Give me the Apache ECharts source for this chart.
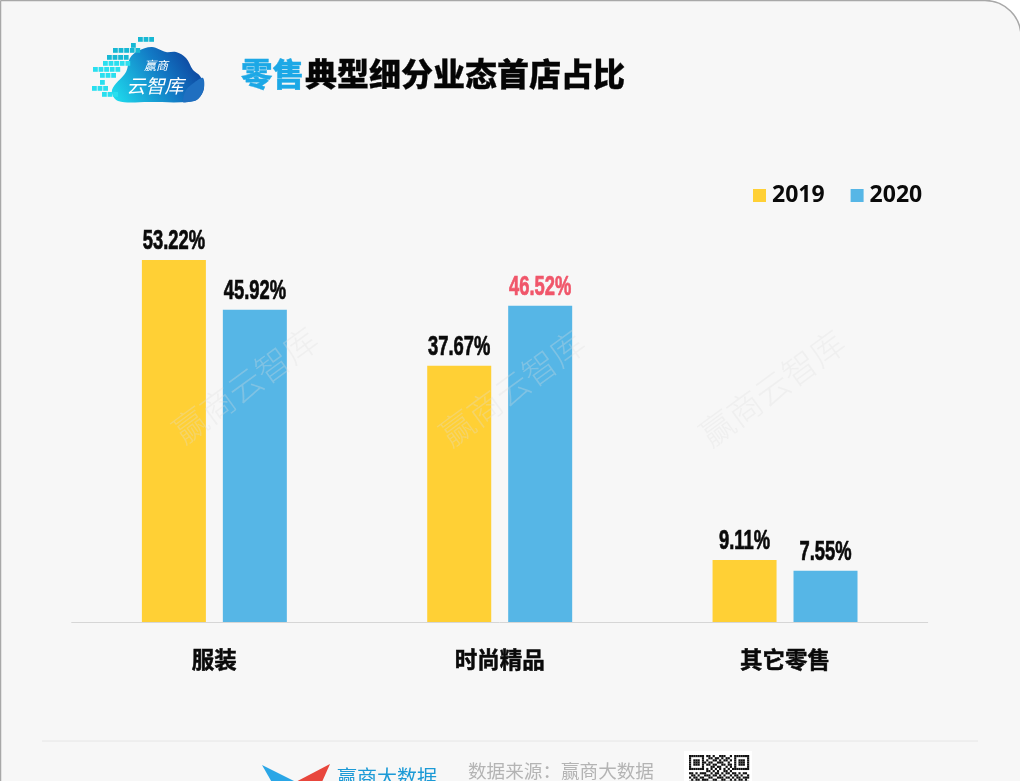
<!DOCTYPE html>
<html>
<head>
<meta charset="utf-8">
<title>零售典型细分业态首店占比</title>
<style>
  html, body { margin: 0; padding: 0; background: #fff; }
  #main { width: 1020px; height: 781px; }
</style>
<script src="https://cdn.jsdelivr.net/npm/echarts@6/dist/echarts.min.js"></script>
</head>
<body>
<div id="main"></div>
<script>
const categories = ['服装', '时尚精品', '其它零售'];
const seriesNames = ['2019', '2020'];
const values2019 = [53.22, 37.67, 9.11];
const values2020 = [45.92, 46.52, 7.55];
const highlighted2020 = 1; // 46.52 is the one red label

const cjk = '"Noto Sans CJK SC", "Noto Sans", sans-serif';
const yellow = '#ffd035';
const blue = '#56b6e6';
const barWidth = 64;
const barGap = '26.5%';

// logo pixels: x, y, how many squares
const logoPixels = [
  [138, 37, 3], [131, 43, 1], [113, 48, 5], [107, 55, 4], [103, 61, 5],
  [93, 67, 5], [100, 73, 3], [100, 80, 1], [92, 86, 3], [102, 92, 3]
];

// cloud outline, graphic has no path type so it is a smoothed polygon
const cloudOutline = [
  [118, 101], [150, 102], [188, 102], [198, 99], [204, 88], [200, 76], [193, 70],
  [186, 58], [176, 52], [166, 52], [152, 47], [138, 51], [130, 58], [126, 72], [112, 90]
];
const cloudLobe = [[183, 102], [186, 90], [195, 82], [203, 78], [204, 88], [198, 99], [188, 102]];

// top rows of the footer QR code, it is cut off by the page edge
const qrRows = [
  '1111111011010011100101111111',
  '1000001001101101011001000001',
  '1011101010011010110101011101',
  '1011101101100111001001011101',
  '1011101011011001101101011101',
  '1000001000110110010101000001',
  '1111111010101010101011111111',
  '0000000011010100110100000000',
  '1101011100101101011011010110',
  '0110100111011010100101101001',
  '1011011001100111011010110111',
  '0101101110011001100101011010',
  '1110010101101110011011100101'
];

const graphics = [];

// card background
graphics.push({
  type: 'rect', z: -10, silent: true,
  shape: { x: 0.5, y: 0.5, width: 1020.5, height: 800, r: [0, 36, 0, 0] },
  style: { fill: '#f7f7f7', stroke: '#a8a8a8', lineWidth: 1.5 }
});

// logo
graphics.push({
  type: 'polygon', z: 1, silent: true,
  shape: { points: cloudOutline, smooth: 0.35 },
  style: {
    fill: new echarts.graphic.LinearGradient(0, 1, 1, 0, [
      { offset: 0, color: '#1fe2f0' },
      { offset: 0.55, color: '#1278c4' },
      { offset: 1, color: '#0c2f8e' }
    ])
  }
});
graphics.push({
  type: 'polygon', z: 1, silent: true,
  shape: { points: cloudLobe, smooth: 0.3 },
  style: { fill: '#1f6fc0' }
});
logoPixels.forEach(function (row) {
  for (let i = 0; i < row[2]; i++) {
    graphics.push({
      type: 'rect', z: 2, silent: true,
      shape: { x: row[0] + i * 5.6, y: row[1], width: 4.8, height: 4.8 },
      style: { fill: row[1] < 60 ? '#17b8d4' : '#2adfef' }
    });
  }
});
graphics.push({
  type: 'text', z: 3, silent: true, x: 156, y: 65,
  style: { text: '赢商', fill: '#fff', font: 'italic 12px ' + cjk, textAlign: 'center', textVerticalAlign: 'middle' }
});
graphics.push({
  type: 'text', z: 3, silent: true, x: 155, y: 86,
  style: { text: '云智库', fill: '#fff', font: 'italic 19px ' + cjk, textAlign: 'center', textVerticalAlign: 'middle' }
});

// title
graphics.push({
  type: 'text', z: 3, silent: true, x: 241, y: 74,
  style: { text: '零售', fill: '#1ca8e6', stroke: '#1ca8e6', lineWidth: 0.3, font: '900 31.5px ' + cjk, textVerticalAlign: 'middle' }
});
graphics.push({
  type: 'text', z: 3, silent: true, x: 305, y: 74,
  style: { text: '典型细分业态首店占比', fill: '#050505', stroke: '#050505', lineWidth: 0.3, font: '900 32px ' + cjk, textVerticalAlign: 'middle' }
});

// watermarks
[[245, 385], [512, 388], [772, 388]].forEach(function (p) {
  graphics.push({
    type: 'text', z: 100, silent: true, x: p[0], y: p[1], rotation: 0.63,
    style: { text: '赢商云智库', fill: 'rgba(222,222,222,0.3)', font: '300 34px ' + cjk, textAlign: 'center', textVerticalAlign: 'middle' }
  });
});

// footer
graphics.push({
  type: 'line', z: 1, silent: true,
  shape: { x1: 42, y1: 741, x2: 978, y2: 741 },
  style: { stroke: '#e6e6e6', lineWidth: 1 }
});
graphics.push({
  type: 'polygon', z: 1, silent: true,
  shape: { points: [[262, 765], [308, 788], [282, 800]] },
  style: { fill: '#2aa6e6' }
});
graphics.push({
  type: 'polygon', z: 1, silent: true,
  shape: { points: [[330, 764], [288, 786], [314, 800]] },
  style: { fill: '#e8463c' }
});
graphics.push({
  type: 'text', z: 3, silent: true, x: 337, y: 767,
  style: { text: '赢商大数据', fill: '#1c9ad6', font: '20px ' + cjk }
});
graphics.push({
  type: 'text', z: 3, silent: true, x: 468, y: 762,
  style: { text: '数据来源：赢商大数据', fill: '#b4b4b4', font: '18.6px ' + cjk }
});
graphics.push({
  type: 'rect', z: 1, silent: true,
  shape: { x: 684, y: 751, width: 68, height: 40 },
  style: { fill: '#fff' }
});
qrRows.forEach(function (row, r) {
  row.split('').forEach(function (cell, c) {
    if (cell === '1') {
      graphics.push({
        type: 'rect', z: 2, silent: true,
        shape: { x: 689 + c * 2.15, y: 755 + r * 2.15, width: 2.15, height: 2.15 },
        style: { fill: '#111' }
      });
    }
  });
});

// no narrow font is installed, so the value labels are squeezed text from a custom series
const labelPoints = [];
[values2019, values2020].forEach(function (values, s) {
  values.forEach(function (v, i) { labelPoints.push([i, v, s]); });
});
const renderValueLabel = function (params, api) {
  const layout = api.barLayout({ count: 2, barWidth: barWidth, barGap: barGap });
  const s = api.value(2);
  const i = api.value(0);
  const v = api.value(1);
  const pt = api.coord([i, v]);
  const color = s === 1 && i === highlighted2020 ? '#f0566a' : '#0a0a0a';
  return {
    type: 'text',
    x: pt[0] + layout[s].offsetCenter,
    y: pt[1] - 18.5,
    scaleX: 0.68,
    silent: true,
    style: {
      text: v.toFixed(2) + '%',
      fill: color, stroke: color, lineWidth: 0.7,
      font: 'bold 27px "Liberation Sans", sans-serif',
      textAlign: 'center', textVerticalAlign: 'middle'
    }
  };
};

const myChart = echarts.init(document.getElementById('main'));
myChart.setOption({
  animation: false,
  backgroundColor: 'transparent',
  graphic: graphics,
  legend: {
    left: 748, top: 179, itemWidth: 13, itemHeight: 13, itemGap: 26,
    selectedMode: false, icon: 'rect',
    data: seriesNames,
    textStyle: { color: '#0a0a0a', fontFamily: '"Open Sans", sans-serif', fontWeight: 'bold', fontSize: 23, padding: [0, 0, 0, 1] }
  },
  grid: { left: 71.7, right: 92.3, top: 214, bottom: 159 },
  xAxis: {
    type: 'category',
    data: categories,
    axisTick: { show: false },
    axisLine: { lineStyle: { color: '#d6d6d6', width: 1 } },
    axisLabel: {
      color: '#0a0a0a', fontFamily: cjk, fontWeight: 'bold', fontSize: 22.5, margin: 26,
      textBorderColor: '#0a0a0a', textBorderWidth: 0.5
    }
  },
  yAxis: { type: 'value', min: 0, max: 60, show: false },
  series: [
    {
      name: seriesNames[0], type: 'bar', barWidth: barWidth, barGap: barGap,
      itemStyle: { color: yellow },
      data: values2019
    },
    {
      name: seriesNames[1], type: 'bar', barWidth: barWidth,
      itemStyle: { color: blue },
      data: values2020
    },
    {
      name: 'labels', type: 'custom', clip: false, z: 5,
      encode: { x: 0, y: 1 },
      renderItem: renderValueLabel,
      data: labelPoints
    }
  ]
});
</script>
</body>
</html>
